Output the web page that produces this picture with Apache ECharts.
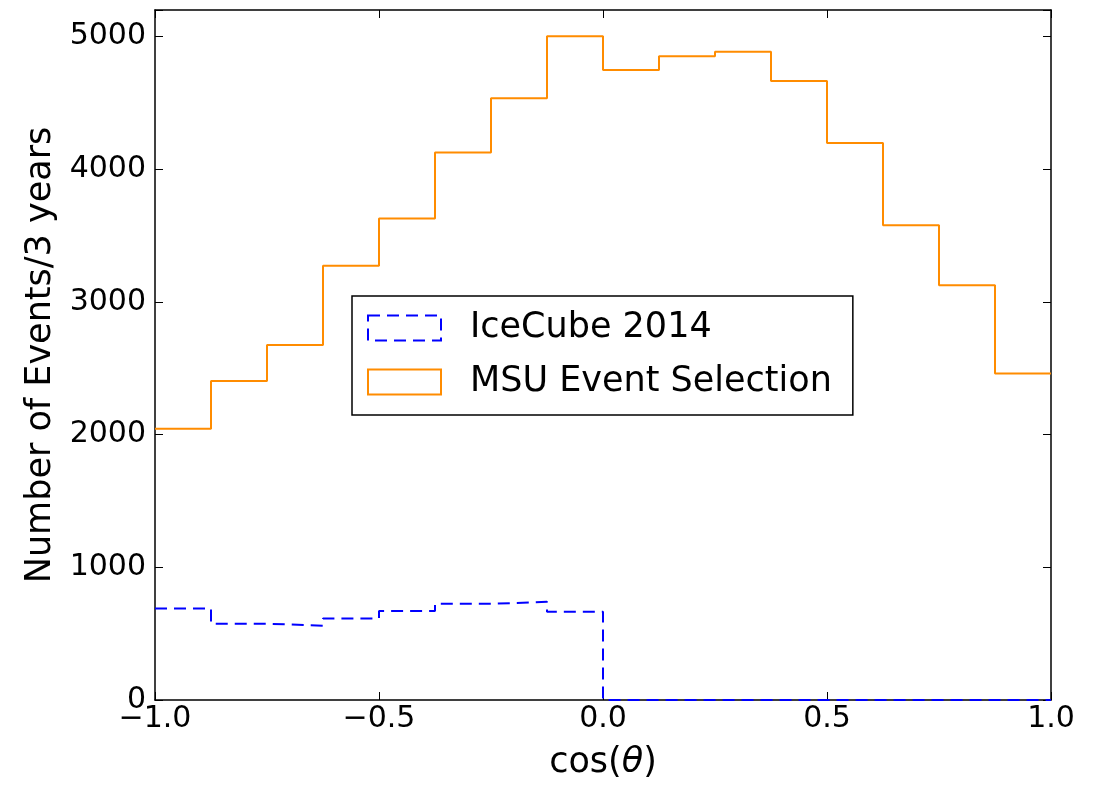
<!DOCTYPE html>
<html>
<head>
<meta charset="utf-8">
<script src="https://cdn.jsdelivr.net/npm/echarts@6/dist/echarts.min.js"></script>
<style>
html,body{margin:0;padding:0;background:#fff;}
#chart{width:1102px;height:785px;}
</style>
</head>
<body>
<div id="chart"></div>
<script>
// Bin edges of cos(theta) histogram (16 bins of width 0.125)
const binEdges = [-1.0, -0.875, -0.75, -0.625, -0.5, -0.375, -0.25, -0.125, 0.0,
                  0.125, 0.25, 0.375, 0.5, 0.625, 0.75, 0.875, 1.0];
// Events per 3 years in each bin
const icecube2014 = [690, 575, 560, 615, 670, 725, 740, 665, 0, 0, 0, 0, 0, 0, 0, 0];
const msuSelection = [2045, 2405, 2675, 3273, 3628, 4126, 4534, 5002,
                      4747, 4852, 4885, 4665, 4198, 3577, 3125, 2460];
const seriesNames = ['IceCube 2014', 'MSU Event Selection'];
const xTicks = { min: -1, max: 1, interval: 0.5 };
const yTicks = { min: 0, max: 5200, interval: 1000 };

function stepData(vals) {
  const d = vals.map((v, i) => [binEdges[i], v]);
  d.push([binEdges[binEdges.length - 1], vals[vals.length - 1]]);
  return d;
}

const FONT = 'DejaVu Sans';
const axisLineStyle = { color: '#000', width: 1.5 };
const tickStyle = { inside: true, length: 8, lineStyle: { color: '#000', width: 1 } };

function fmtX(v) {
  const s = Math.abs(v).toFixed(1);
  return v < 0 ? '\u2212' + s : s;
}
function fmtY(v) {
  return (v % 1000 === 0) ? String(v) : '';
}

const chart = echarts.init(document.getElementById('chart'), null, { renderer: 'canvas' });
chart.setOption({
  backgroundColor: '#fff',
  animation: false,
  grid: { left: 155, right: 51, top: 10, bottom: 84, containLabel: false },
  xAxis: [
    {
      type: 'value', min: xTicks.min, max: xTicks.max, interval: xTicks.interval,
      position: 'bottom',
      axisLine: { show: true, onZero: false, lineStyle: axisLineStyle },
      axisTick: tickStyle,
      splitLine: { show: false },
      axisLabel: { formatter: fmtX, color: '#000', fontFamily: FONT, fontSize: 30, margin: 4 },
      name: '{n|cos(}{t|θ}{n|)}',
      nameLocation: 'middle',
      nameGap: 45,
      nameTextStyle: {
        rich: {
          n: { fontFamily: FONT, fontSize: 35, color: '#000' },
          t: { fontFamily: FONT, fontSize: 35, color: '#000', fontStyle: 'italic' }
        }
      }
    },
    {
      type: 'value', min: xTicks.min, max: xTicks.max, interval: xTicks.interval,
      position: 'top',
      axisLine: { show: true, onZero: false, lineStyle: axisLineStyle },
      axisTick: tickStyle,
      splitLine: { show: false },
      axisLabel: { show: false }
    }
  ],
  yAxis: [
    {
      type: 'value', min: yTicks.min, max: yTicks.max, interval: yTicks.interval,
      position: 'left',
      axisLine: { show: true, onZero: false, lineStyle: axisLineStyle },
      axisTick: tickStyle,
      splitLine: { show: false },
      axisLabel: { formatter: fmtY, color: '#000', fontFamily: FONT, fontSize: 30, margin: 9 },
      name: 'Number of Events/3 years',
      nameLocation: 'middle',
      nameGap: 97,
      nameTextStyle: { fontFamily: FONT, fontSize: 35, color: '#000' }
    },
    {
      type: 'value', min: yTicks.min, max: yTicks.max, interval: yTicks.interval,
      position: 'right',
      axisLine: { show: true, onZero: false, lineStyle: axisLineStyle },
      axisTick: tickStyle,
      splitLine: { show: false },
      axisLabel: { show: false }
    }
  ],
  legend: {
    left: 352, top: 296,
    orient: 'vertical',
    backgroundColor: '#fff',
    borderColor: '#000',
    borderWidth: 1.5,
    borderRadius: 0,
    padding: [12, 21, 13, 15],
    itemWidth: 73,
    itemHeight: 25,
    itemGap: 14,
    textStyle: { fontFamily: FONT, fontSize: 35, color: '#000', lineHeight: 40, padding: [0, 0, 0, 24] },
    data: [
      { name: seriesNames[0], icon: 'rect',
        itemStyle: { color: 'rgba(0,0,0,0)', borderColor: '#0000ff', borderWidth: 2, borderType: [12, 7] } },
      { name: seriesNames[1], icon: 'rect',
        itemStyle: { color: 'rgba(0,0,0,0)', borderColor: '#ff8c00', borderWidth: 2, borderType: 'solid' } }
    ]
  },
  series: [
    {
      name: seriesNames[0], type: 'line', step: 'end', symbol: 'none',
      xAxisIndex: 0, yAxisIndex: 0,
      lineStyle: { color: '#0000ff', width: 2, type: [12, 7] },
      itemStyle: { color: '#0000ff' },
      data: stepData(icecube2014), z: 2
    },
    {
      name: seriesNames[1], type: 'line', step: 'end', symbol: 'none',
      xAxisIndex: 0, yAxisIndex: 0,
      lineStyle: { color: '#ff8c00', width: 2, type: 'solid' },
      itemStyle: { color: '#ff8c00' },
      data: stepData(msuSelection), z: 3
    }
  ]
});
</script>
</body>
</html>
